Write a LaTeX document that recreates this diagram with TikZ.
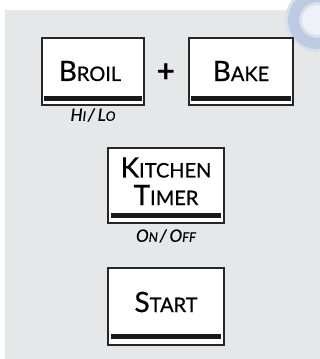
\documentclass[tikz,border=0pt]{standalone}
\usepackage{fontspec}
\setmainfont{Lato}
\newfontfamily\keyfont{Lato}[FakeBold=0.6]
\definecolor{panelgrey}{RGB}{230,231,233}
\definecolor{ringblue}{RGB}{190,202,225}
\definecolor{ringpale}{RGB}{238,242,248}
\newcommand{\keycap}[2]{{\fontsize{28}{28}\selectfont #1}{\fontsize{20}{20}\selectfont #2}}
\newcommand{\subcap}[2]{{\fontsize{17}{17}\selectfont #1}{\fontsize{13}{13}\selectfont #2}}
\begin{document}
\begin{tikzpicture}[x=1pt, y=-1pt,
  keybox/.style={draw=black!85, line width=1.3pt, fill=white, inner sep=0pt},
  keybar/.style={line width=4.5pt, black!90},
  keytext/.style={inner sep=0pt, font=\keyfont},
  subtext/.style={inner sep=0pt, font=\keyfont\itshape}]
  \useasboundingbox (0,0) rectangle (320,359);
  \fill[panelgrey] (5,10) rectangle (320,359);
  % faint mark top right
  \fill[ringpale] (317,20) circle (17);
  \draw[ringblue!60!white, line width=17pt] (317,20) circle (23.5);
  \draw[ringblue, line width=11pt] (317,20) circle (23.5);
  % broil + bake
  \node[keybox, minimum width=102pt, minimum height=67pt] (broil) at (93,71.5) {};
  \node[keybox, minimum width=104pt, minimum height=67pt] (bake) at (241,71.5) {};
  \draw[keybar] ([xshift=3pt,yshift=7pt]broil.south west) -- ([xshift=-3pt,yshift=7pt]broil.south east);
  \draw[keybar] ([xshift=3pt,yshift=7pt]bake.south west) -- ([xshift=-3pt,yshift=7pt]bake.south east);
  \node[keytext] (broiltxt) at (90,71) {\keycap{B}{ROIL}};
  \node[keytext] (baketxt) at (241,71) {\keycap{B}{AKE}};
  \node[inner sep=0pt, font=\fontsize{32}{32}\selectfont\bfseries] (plus) at (166,73) {+};
  \node[subtext] (hilo) at (93,115) {\subcap{H}{I}\,\fontsize{17}{17}\selectfont/\,\subcap{L}{O}};
  % kitchen timer
  \node[keybox, minimum width=116pt, minimum height=75pt] (timer) at (166,185.5) {};
  \draw[keybar] ([xshift=4pt,yshift=8pt]timer.south west) -- ([xshift=-4pt,yshift=8pt]timer.south east);
  \node[keytext] (timertop) at (166,167.5) {\keycap{K}{ITCHEN}};
  \node[keytext] (timerbot) at (166,195) {\keycap{T}{IMER}};
  \node[subtext] (onoff) at (166,236) {\subcap{O}{N}\,\fontsize{17}{17}\selectfont/\,\subcap{O}{FF}};
  % start
  \node[keybox, minimum width=116pt, minimum height=77pt] (start) at (166,306.5) {};
  \draw[keybar] ([xshift=4pt,yshift=9pt]start.south west) -- ([xshift=-4pt,yshift=9pt]start.south east);
  \node[keytext] (starttxt) at (166,302) {\keycap{S}{TART}};
\end{tikzpicture}
\end{document}
